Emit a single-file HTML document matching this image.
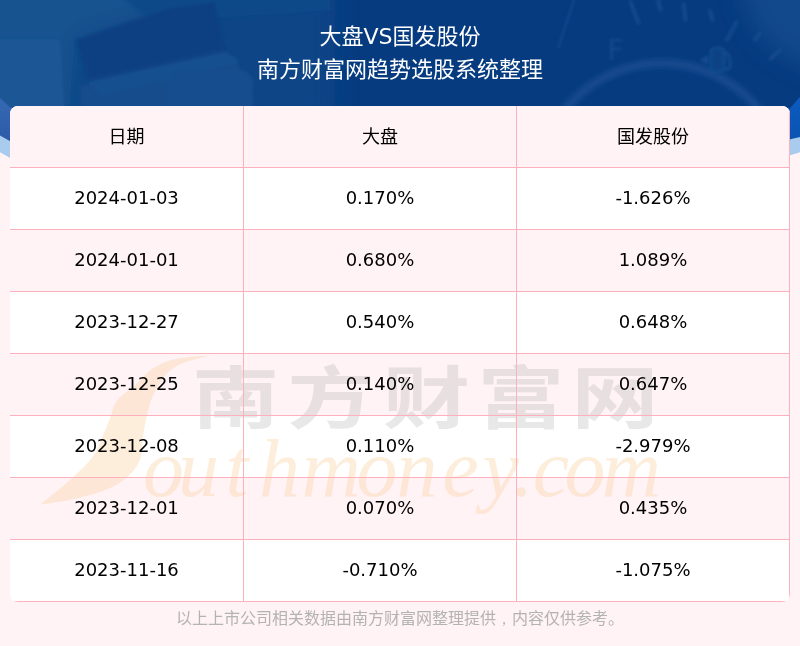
<!DOCTYPE html>
<html lang="zh-CN">
<head>
<meta charset="utf-8">
<title>大盘VS国发股份</title>
<style>
*{margin:0;padding:0;box-sizing:border-box;}
html,body{width:800px;height:646px;overflow:hidden;background:#fff3f6;}
body{position:relative;font-family:"DejaVu Sans","Noto Sans CJK SC",sans-serif;}
#bg{position:absolute;left:0;top:0;width:800px;height:170px;}
.title{position:absolute;left:0;width:800px;text-align:center;color:#fff;font-size:22px;line-height:32px;}
.t1{top:21px;}
.t2{top:54px;}
.tbl{position:absolute;left:10px;top:106px;width:780px;height:496px;border-radius:8px;overflow:hidden;background:#fff;}
.stripe{position:absolute;left:0;width:780px;height:62px;background:#fff3f6;}
.wm{position:absolute;left:0;top:0;width:780px;height:497px;}
table{position:absolute;left:0;top:0;border-collapse:separate;border-spacing:0;width:780px;table-layout:fixed;}
td,th{height:62px;padding:0 0 2px 0;text-align:center;vertical-align:middle;font-size:18px;font-weight:normal;color:#000;border-right:1px solid #ffb0bd;border-bottom:1px solid #ffb0bd;background:transparent;}
th{padding-bottom:4px;}
.foot{position:absolute;left:0;top:607px;width:800px;text-align:center;font-size:16px;line-height:24px;color:#b3b3b3;}
.cm{font-family:"WenQuanYi Zen Hei",sans-serif;}
</style>
</head>
<body>
<svg id="bg" width="800" height="170" viewBox="0 0 800 170">
  <defs>
    <filter id="b12" x="-30%" y="-30%" width="160%" height="160%"><feGaussianBlur stdDeviation="12"/></filter>
    <filter id="b5" x="-20%" y="-20%" width="140%" height="140%"><feGaussianBlur stdDeviation="5"/></filter>
    <filter id="b3" x="-20%" y="-20%" width="140%" height="140%"><feGaussianBlur stdDeviation="2.5"/></filter>
    <filter id="b2" x="-20%" y="-20%" width="140%" height="140%"><feGaussianBlur stdDeviation="1.5"/></filter>
    <radialGradient id="tr" cx="800" cy="0" r="150" gradientUnits="userSpaceOnUse">
      <stop offset="0" stop-color="#2462a6"/>
      <stop offset="0.6" stop-color="#1a5498" stop-opacity="0.6"/>
      <stop offset="1" stop-color="#0a3e82" stop-opacity="0"/>
    </radialGradient>
    <linearGradient id="lb" x1="0" y1="0" x2="0" y2="1">
      <stop offset="0" stop-color="#3668b3"/>
      <stop offset="1" stop-color="#2553a0"/>
    </linearGradient>
    <linearGradient id="rb" x1="0" y1="0" x2="0" y2="1">
      <stop offset="0" stop-color="#0c5bbf"/>
      <stop offset="1" stop-color="#0a4fa8"/>
    </linearGradient>
  </defs>
  <rect x="0" y="0" width="800" height="170" fill="#063b7f"/>
  <g filter="url(#b12)">
    <polygon points="-30,-30 215,-30 200,2 75,40 68,125 -30,125" fill="#18538f"/>
    <polygon points="215,-30 335,-30 335,125 68,125 75,40 200,2" fill="#0d4487"/>
  </g>
  <g filter="url(#b2)">
    <polygon points="120,-5 330,-5 330,10 150,22" fill="#114889"/>
    <polygon points="75,40 170,8 215,2 225,50 88,80" fill="#0a4083"/>
    <polygon points="80,86 235,56 255,112 80,112" fill="#124b8c"/>
    <polygon points="88,82 225,52 240,62 100,96" fill="#15508f"/>
    <rect x="168" y="70" width="85" height="45" rx="14" fill="#134d8e"/>
    <polygon points="-10,40 60,40 65,120 -10,120" fill="#1b5795"/>
  </g>
  <circle cx="835" cy="-25" r="95" fill="#1a5597" filter="url(#b12)" opacity="0.55"/>
  <path d="M574,0 Q566,25 558,48" stroke="#0f4588" stroke-width="3" fill="none" filter="url(#b2)"/>
  <path d="M550,130 A124,124 0 0 1 774,130" transform="translate(0,4)" fill="none" stroke="#124a8d" stroke-width="9" filter="url(#b3)"/>
  <g stroke="#134b8e" stroke-width="3.5" stroke-linecap="round" filter="url(#b2)">
    <line x1="630.5" y1="2" x2="638.5" y2="23"/>
    <line x1="658" y1="0" x2="660.5" y2="10"/>
    <line x1="683.5" y1="4" x2="685.5" y2="20"/>
    <line x1="710" y1="11" x2="712.5" y2="20"/>
    <line x1="736.5" y1="22" x2="727" y2="40"/>
    <line x1="759.5" y1="33" x2="755" y2="40"/>
    <line x1="780" y1="50" x2="770.5" y2="59"/>
  </g>
  <text x="607.5" y="59.5" font-family="DejaVu Sans" font-size="28" fill="#124a8c" filter="url(#b2)">F</text>
  <g filter="url(#b2)" stroke="#144c8f" fill="none" stroke-width="2.5">
    <path d="M711,71 V53 q0,-5 5,-5 h3 q5,0 5,5 V71 Z" fill="#0c4284"/>
    <path d="M724,52 q6,2 6,9 v6 q-1,4 -4,1"/>
    <polygon points="700,60 708,55 708,65" fill="#144c8f" stroke="none"/>
  </g>
  <polygon points="0,98 12,109 12,170 0,170" fill="url(#lb)"/>
  <polygon points="0,135.6 12,142.3 12,170 0,170" fill="#a9cbee"/>
  <polygon points="0,152.3 12,158.9 12,170 0,170" fill="#fff3f6"/>
  <polygon points="786,113 800,96.7 800,170 786,170" fill="url(#rb)"/>
  <polygon points="786,140.3 800,136.9 800,170 786,170" fill="#a9cbee"/>
  <polygon points="786,156.4 800,152.3 800,170 786,170" fill="#fff3f6"/>
  <rect x="0" y="165" width="800" height="5" fill="#fff3f6"/>
</svg>
<div class="title t1">大盘VS国发股份</div>
<div class="title t2">南方财富网趋势选股系统整理</div>
<div class="tbl">
<div class="stripe" style="top:0"></div>
<div class="stripe" style="top:124px"></div>
<div class="stripe" style="top:248px"></div>
<div class="stripe" style="top:372px"></div>
<svg class="wm" width="780" height="496" viewBox="10 106 780 496">
  <path d="M210,355 C205.8,355.3 192.2,356.0 185,357 C177.8,358.0 172.8,358.8 167,361 C161.2,363.2 155.2,366.2 150,370 C144.8,373.8 141.5,379.0 136,384 C130.5,389.0 121.3,394.3 117,400 C112.7,405.7 112.5,411.8 110,418 C107.5,424.2 104.8,430.7 102,437 C99.2,443.3 97.3,449.8 93,456 C88.7,462.2 82.5,467.8 76,474 C69.5,480.2 60.0,488.0 54,493 C48.0,498.0 42.3,502.2 40,504 C44.5,503.3 57.8,501.8 67,500 C76.2,498.2 86.7,495.7 95,493 C103.3,490.3 111.2,487.2 117,484 C122.8,480.8 126.7,477.2 130,474 C133.3,470.8 135.2,468.0 137,465 C138.8,462.0 140.0,460.7 141,456 C142.0,451.3 142.2,443.2 143,437 C143.8,430.8 144.7,425.2 146,419 C147.3,412.8 149.2,405.2 151,400 C152.8,394.8 154.5,392.3 157,388 C159.5,383.7 161.8,378.2 166,374 C170.2,369.8 174.7,366.2 182,363 C189.3,359.8 205.3,356.3 210,355 Z" fill="#fbd3a9" fill-opacity="0.42"/>
  <text x="143 178 225.6 259 301.5 356.4 396.6 442.2 482.5 512.7 532.7 564.6 601.8" y="495" font-family="Liberation Serif" font-style="italic" font-size="82" fill="#fbd3a9" fill-opacity="0.42">outhmoney.com</text>
  <text transform="scale(1.18,0.926)" x="199.8 280.5 361.4 441.5 521.2" y="456.8" text-anchor="middle" font-family="Noto Sans CJK SC" font-weight="700" font-size="74" fill="#a8a8a8" fill-opacity="0.26">南方财富网</text>
</svg>
<table>
<colgroup><col style="width:234px"><col style="width:273px"><col style="width:273px"></colgroup>
<tr><th>日期</th><th>大盘</th><th>国发股份</th></tr>
<tr><td>2024-01-03</td><td>0.170%</td><td>-1.626%</td></tr>
<tr><td>2024-01-01</td><td>0.680%</td><td>1.089%</td></tr>
<tr><td>2023-12-27</td><td>0.540%</td><td>0.648%</td></tr>
<tr><td>2023-12-25</td><td>0.140%</td><td>0.647%</td></tr>
<tr><td>2023-12-08</td><td>0.110%</td><td>-2.979%</td></tr>
<tr><td>2023-12-01</td><td>0.070%</td><td>0.435%</td></tr>
<tr><td>2023-11-16</td><td>-0.710%</td><td>-1.075%</td></tr>
</table>
</div>
<div class="foot">以上上市公司相关数据由南方财富网整理提供<span class="cm">，</span>内容仅供参考。</div>
</body>
</html>
